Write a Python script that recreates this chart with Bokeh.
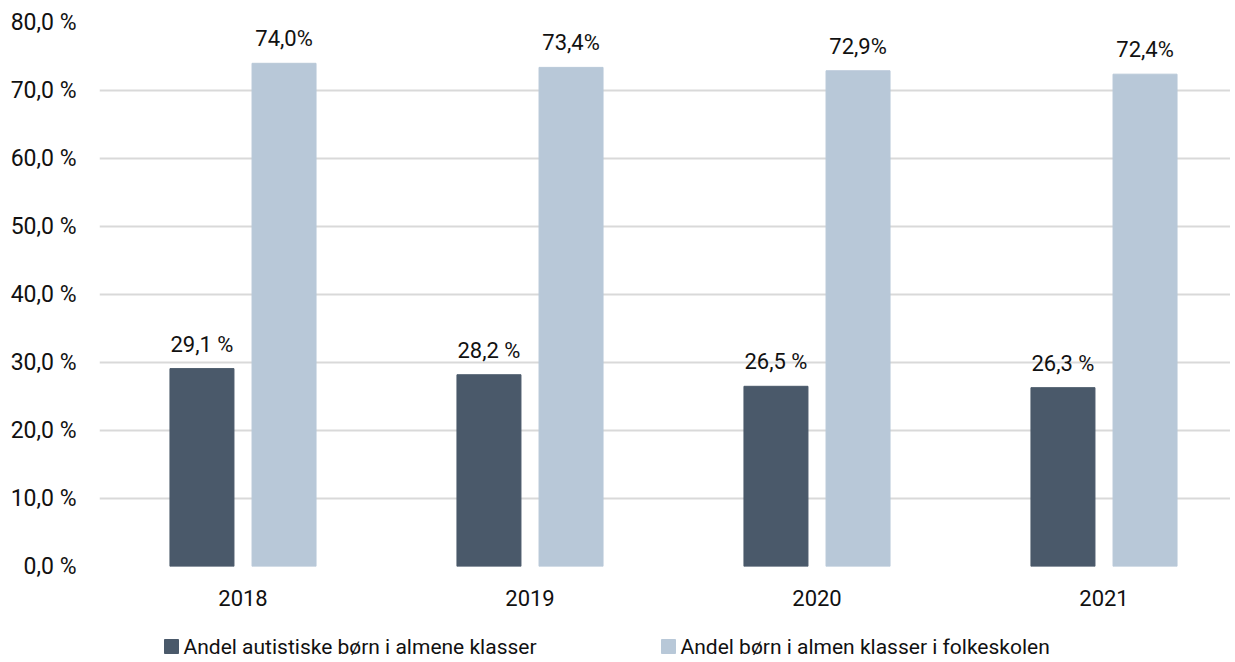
from bokeh.plotting import figure
from bokeh.layouts import column
from bokeh.models import ColumnDataSource, FixedTicker, Range1d, LabelSet, CustomJSTickFormatter
from bokeh.core.properties import value
from bokeh.embed import file_html
from bokeh.resources import INLINE

years = ["2018", "2019", "2020", "2021"]
autistic = [29.1, 28.2, 26.5, 26.3]
overall = [74.0, 73.4, 72.9, 72.4]
autistic_labels = ["29,1 %", "28,2 %", "26,5 %", "26,3 %"]
overall_labels = ["74,0%", "73,4%", "72,9%", "72,4%"]
series_names = ["Andel autistiske børn i almene klasser", "Andel børn i almen klasser i folkeskolen"]
y_ticks = [0, 10, 20, 30, 40, 50, 60, 70, 80]

FONT = "Roboto"
DARK = "#4a596a"
LIGHT = "#b8c8d8"
TXT = "#111111"

W = 1230
LEFT = 99
centers = [i + 0.5 for i in range(len(years))]
off = 0.143
w = 0.223
x_end = (W - LEFT) / 287.0

src1 = ColumnDataSource(dict(x=[c - off for c in centers], top=autistic, lab=autistic_labels))
src2 = ColumnDataSource(dict(x=[c + off for c in centers], top=overall, lab=overall_labels))

p = figure(width=W, height=612, output_backend="svg", toolbar_location=None,
           x_range=Range1d(0, x_end), y_range=Range1d(0, 80),
           min_border_left=LEFT, min_border_right=0, min_border_top=22, min_border_bottom=46)
p.outline_line_color = None

p.xgrid.grid_line_color = None
p.ygrid.ticker = FixedTicker(ticks=y_ticks)
p.ygrid.grid_line_color = "#d9d9d9"
p.ygrid.grid_line_width = 2

p.vbar(x="x", top="top", width=w, source=src1, color=DARK)
p.vbar(x="x", top="top", width=w, source=src2, color=LIGHT)

for s in (src1, src2):
    p.add_layout(LabelSet(x="x", y="top", text="lab", source=s, text_align="center",
                          text_baseline="bottom", y_offset=12, text_font=value(FONT),
                          text_font_size="22px", text_color=TXT))

p.yaxis.ticker = FixedTicker(ticks=y_ticks)
p.yaxis.formatter = CustomJSTickFormatter(code="return tick.toFixed(1).replace('.', ',') + ' %';")
p.yaxis.axis_line_color = None
p.yaxis.major_tick_line_color = None
p.yaxis.minor_tick_line_color = None
p.yaxis.major_label_standoff = 17
p.yaxis.major_label_text_font = FONT
p.yaxis.major_label_text_font_size = "23px"
p.yaxis.major_label_text_color = TXT

p.xaxis.ticker = FixedTicker(ticks=centers)
p.xaxis.major_label_overrides = {c: y for c, y in zip(centers, years)}
p.xaxis.axis_line_color = None
p.xaxis.major_tick_line_color = None
p.xaxis.minor_tick_line_color = None
p.xaxis.major_label_standoff = 17
p.xaxis.major_label_text_font = FONT
p.xaxis.major_label_text_font_size = "22px"
p.xaxis.major_label_text_color = TXT

# legend strip below the chart (its frame is aligned with the chart frame; x in page pixels)
lg = figure(width=W, height=48, output_backend="svg", toolbar_location=None,
            x_range=Range1d(LEFT + 1, W + 1), y_range=Range1d(0, 48),
            min_border=0, min_border_left=LEFT, x_axis_type=None, y_axis_type=None)
lg.outline_line_color = None
lg.grid.grid_line_color = None
lg_x = [165, 662]
lg.rect(x=[v + 7 for v in lg_x], y=[14, 14], width=14, height=14, color=[DARK, LIGHT])
lg.text(x=[v + 19 for v in lg_x], y=[14, 14], text=series_names, text_baseline="middle",
        text_align="left", text_font=value(FONT), text_font_size="21px", text_color=TXT)

layout = column(p, lg, spacing=0)
open("out.html", "w").write(file_html(layout, INLINE))
